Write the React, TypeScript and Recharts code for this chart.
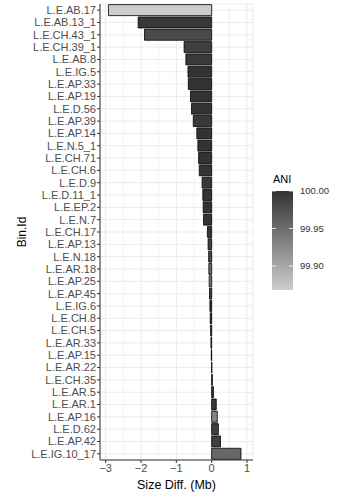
import React from "react";
import {
  BarChart,
  Bar,
  Cell,
  XAxis,
  YAxis,
  CartesianGrid,
} from "recharts";

const bins = [
  "L.E.AB.17", "L.E.AB.13_1", "L.E.CH.43_1", "L.E.CH.39_1", "L.E.AB.8", "L.E.IG.5",
  "L.E.AP.33", "L.E.AP.19", "L.E.D.56", "L.E.AP.39", "L.E.AP.14", "L.E.N.5_1",
  "L.E.CH.71", "L.E.CH.6", "L.E.D.9", "L.E.D.11_1", "L.E.EP.2", "L.E.N.7",
  "L.E.CH.17", "L.E.AP.13", "L.E.N.18", "L.E.AR.18", "L.E.AP.25", "L.E.AP.45",
  "L.E.IG.6", "L.E.CH.8", "L.E.CH.5", "L.E.AR.33", "L.E.AP.15", "L.E.AR.22",
  "L.E.CH.35", "L.E.AR.5", "L.E.AR.1", "L.E.AP.16", "L.E.D.62", "L.E.AP.42",
  "L.E.IG.10_17",
];

const sizeDiff = [
  -2.92, -2.08, -1.9, -0.78, -0.73, -0.67,
  -0.66, -0.6, -0.57, -0.52, -0.42, -0.39,
  -0.37, -0.35, -0.27, -0.25, -0.24, -0.23,
  -0.12, -0.1, -0.085, -0.08, -0.07, -0.06,
  -0.05, -0.04, -0.03, -0.02, -0.01, 0.005,
  0.02, 0.05, 0.13, 0.16, 0.19, 0.25,
  0.83,
];

const ani = [
  99.868, 99.995, 99.98, 99.99, 99.995, 100.0,
  100.0, 100.0, 100.0, 99.995, 100.0, 100.0,
  100.0, 100.0, 99.995, 100.0, 100.0, 100.0,
  100.0, 99.99, 99.98, 99.95, 99.94, 99.99,
  100.0, 100.0, 100.0, 100.0, 100.0, 100.0,
  100.0, 100.0, 99.995, 99.93, 99.99, 99.99,
  99.955,
];

const xTicks = [-3, -2, -1, 0, 1];
const xMinor = [-2.5, -1.5, -0.5, 0.5];
const aniTicks = [99.9, 99.95, 100.0];

const data = bins.map((bin, i) => ({ bin, diff: sizeDiff[i], ani: ani[i] }));

const aniMin = Math.min(...ani);
const aniMax = Math.max(...ani);
const domain: [number, number] = [-3.16, 1.17];

// grey80 -> grey20
function aniColor(v: number) {
  const t = (v - aniMin) / (aniMax - aniMin);
  const g = Math.round(204 + (51 - 204) * t);
  return `rgb(${g},${g},${g})`;
}

const font = "'Liberation Sans', Arial, sans-serif";

// minor vertical gridlines, placed through the axis scale when available
function minorLines({ xAxis, offset }: any) {
  const s = xAxis && xAxis.scale;
  if (typeof s === "function") return xMinor.map((v) => s(v));
  if (s && typeof s.map === "function") return xMinor.map((v) => s.map(v));
  return xMinor.map(
    (v) => offset.left + ((v - domain[0]) / (domain[1] - domain[0])) * offset.width
  );
}

function ColorBar() {
  const top = 191;
  const h = 99;
  const x = 272;
  const w = 21;
  const yOf = (v: number) => top + ((aniMax - v) / (aniMax - aniMin)) * h;
  return (
    <svg
      width={339}
      height={494}
      style={{ position: "absolute", left: 0, top: 0, pointerEvents: "none" }}
    >
      <defs>
        <linearGradient id="aniGrad" x1="0" y1="0" x2="0" y2="1">
          <stop offset="0%" stopColor={aniColor(aniMax)} />
          <stop offset="100%" stopColor={aniColor(aniMin)} />
        </linearGradient>
      </defs>
      <text x={273} y={183} fontSize={11} fontFamily={font} fill="#000">
        ANI
      </text>
      <rect x={x} y={top} width={w} height={h} fill="url(#aniGrad)" />
      {aniTicks.map((t) => (
        <g key={t}>
          <line x1={x} x2={x + 4} y1={yOf(t)} y2={yOf(t)} stroke="#fff" strokeWidth={0.8} />
          <line x1={x + w - 4} x2={x + w} y1={yOf(t)} y2={yOf(t)} stroke="#fff" strokeWidth={0.8} />
          <text
            x={300}
            y={yOf(t)}
            dy="0.35em"
            fontSize={9.5}
            fontFamily={font}
            fill="#333"
          >
            {t.toFixed(2)}
          </text>
        </g>
      ))}
    </svg>
  );
}

export default function App() {
  return (
    <div style={{ position: "absolute", left: 0, top: 0, width: 339, height: 494, background: "#fff" }}>
      <BarChart
        width={339}
        height={494}
        data={data}
        layout="vertical"
        margin={{ top: 4, right: 86, bottom: 0, left: 0 }}
        barCategoryGap="5%"
      >
        <CartesianGrid stroke="#ebebeb" strokeWidth={1} />
        <CartesianGrid
          stroke="#ebebeb"
          strokeWidth={0.6}
          horizontal={false}
          verticalCoordinatesGenerator={minorLines}
        />
        <XAxis
          type="number"
          dataKey="diff"
          domain={domain}
          ticks={xTicks}
          height={34}
          tickSize={3}
          tickMargin={1}
          stroke="#333"
          axisLine={{ stroke: "#333" }}
          tickLine={{ stroke: "#333" }}
          tick={{ fontSize: 11, fill: "#4d4d4d", fontFamily: font }}
          tickFormatter={(v: number) => String(v).replace("-", "\u2212")}
          label={{
            content: ({ viewBox }: any) => (
              <text
                x={viewBox.x + viewBox.width / 2}
                y={viewBox.y + 29}
                textAnchor="middle"
                fontSize={12.5}
                fontFamily={font}
                fill="#000"
              >
                Size Diff. (Mb)
              </text>
            ),
          }}
        />
        <XAxis
          xAxisId="top"
          orientation="top"
          type="number"
          domain={domain}
          height={0}
          tick={false}
          tickLine={false}
          axisLine={{ stroke: "#333" }}
        />
        <YAxis
          type="category"
          dataKey="bin"
          width={100}
          interval={0}
          tickSize={3}
          tickMargin={1}
          axisLine={{ stroke: "#333" }}
          tickLine={{ stroke: "#333" }}
          tick={{ fontSize: 11, fill: "#4d4d4d", fontFamily: font }}
          label={{
            content: ({ viewBox }: any) => {
              const cx = viewBox.x + 22;
              const cy = viewBox.y + viewBox.height / 2;
              return (
                <text
                  x={cx}
                  y={cy}
                  transform={`rotate(-90 ${cx} ${cy})`}
                  textAnchor="middle"
                  dominantBaseline="central"
                  fontSize={12}
                  fontFamily={font}
                  fill="#000"
                >
                  Bin.Id
                </text>
              );
            },
          }}
        />
        <YAxis
          yAxisId="right"
          orientation="right"
          type="category"
          dataKey="bin"
          width={0}
          tick={false}
          tickLine={false}
          axisLine={{ stroke: "#333" }}
        />
        <Bar dataKey="diff" stroke="#000" strokeWidth={0.8} isAnimationActive={false}>
          {data.map((d) => (
            <Cell key={d.bin} fill={aniColor(d.ani)} />
          ))}
        </Bar>
      </BarChart>
      <ColorBar />
    </div>
  );
}
